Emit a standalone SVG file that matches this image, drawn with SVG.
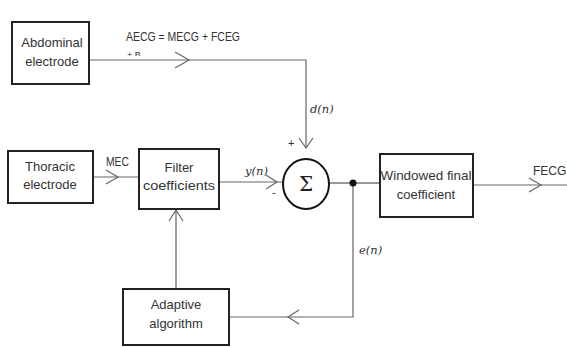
<svg xmlns="http://www.w3.org/2000/svg" width="567" height="347" viewBox="0 0 567 347">
<style>
.box{fill:#fff;stroke:#222;stroke-width:2}
.ln{fill:none;stroke:#666;stroke-width:1.2}
.chev{fill:none;stroke:#666;stroke-width:1.2}
.t{font-family:"Liberation Sans",Arial,sans-serif;font-size:13px;fill:#333}
.s{font-family:"Liberation Sans",Arial,sans-serif;font-size:11px;fill:#333}
.m{font-family:"DejaVu Serif","Liberation Serif",serif;font-style:italic;font-size:11.5px;fill:#333}
</style>
<defs>
<clipPath id="cb"><rect x="120" y="45" width="40" height="11"/></clipPath>
</defs>
<rect width="567" height="347" fill="#fff"/>
<g id="connectors">
<path class="ln" d="M89 60 H306 V147"/>
<path class="chev" d="M175 52 L189 60 L175 68"/>
<path class="chev" d="M299 138 L306 148 L313 138"/>
<path class="ln" d="M93 177 H139"/>
<path class="chev" d="M106 170 L118 177 L106 184"/>
<path class="ln" d="M219 182 H283"/>
<path class="chev" d="M266 175 L277 182 L266 189"/>
<path class="ln" d="M176 289 V209"/>
<path class="chev" d="M169 221 L176 210 L183 221"/>
<path class="ln" d="M229 317 H353 V184"/>
<path class="chev" d="M299 310 L288 317 L299 324"/>
<path class="ln" d="M329 183 H380" style="stroke:#333"/>
<circle cx="353" cy="183" r="3.5" fill="#111"/>
<path class="ln" d="M473 185 H567"/>
<path class="chev" d="M529 178 L541 185 L529 192"/>
</g>
<g id="labels">
<text class="t" x="126" y="41" style="font-size:12.5px" textLength="114" lengthAdjust="spacingAndGlyphs">AECG = MECG + FCEG</text>
<text class="s" x="127" y="57.5" style="font-size:9px" clip-path="url(#cb)">+ B</text>
<text class="m" x="310" y="113">d(n)</text>
<text class="s" x="288" y="147">+</text>
<text class="t" x="106" y="166" textLength="23" lengthAdjust="spacingAndGlyphs">MEC</text>
<text class="m" x="245" y="175">y(n)</text>
<text class="s" x="272" y="196">-</text>
<text class="m" x="359" y="254">e(n)</text>
<text class="t" x="533" y="175" style="font-size:12px">FECG</text>
</g>
<g id="abdominal">
<rect class="box" x="12" y="22" width="77" height="62"/>
<text class="t" x="52" y="47" text-anchor="middle">Abdominal</text>
<text class="t" x="52" y="66" text-anchor="middle">electrode</text>
</g>
<g id="thoracic">
<rect class="box" x="8" y="151" width="85" height="52"/>
<text class="t" x="50" y="171" text-anchor="middle">Thoracic</text>
<text class="t" x="50" y="189" text-anchor="middle">electrode</text>
</g>
<g id="filter">
<rect class="box" x="139" y="149" width="80" height="60"/>
<text class="t" x="179" y="172" text-anchor="middle">Filter</text>
<text class="t" x="179" y="190" text-anchor="middle" textLength="72" lengthAdjust="spacingAndGlyphs">coefficients</text>
</g>
<g id="sum">
<ellipse cx="306" cy="184" rx="23" ry="25" fill="#fff" stroke="#111" stroke-width="2"/>
<text x="306" y="191" text-anchor="middle" style="font-family:'DejaVu Serif',serif;font-size:20px;fill:#222">Σ</text>
</g>
<g id="windowed">
<rect class="box" x="380" y="154" width="93" height="63"/>
<text class="t" x="426" y="180" text-anchor="middle" textLength="91" lengthAdjust="spacingAndGlyphs">Windowed final</text>
<text class="t" x="426" y="199" text-anchor="middle">coefficient</text>
</g>
<g id="adaptive">
<rect class="box" x="123" y="289" width="106" height="56"/>
<text class="t" x="176" y="309" text-anchor="middle">Adaptive</text>
<text class="t" x="176" y="328" text-anchor="middle">algorithm</text>
</g>
</svg>
